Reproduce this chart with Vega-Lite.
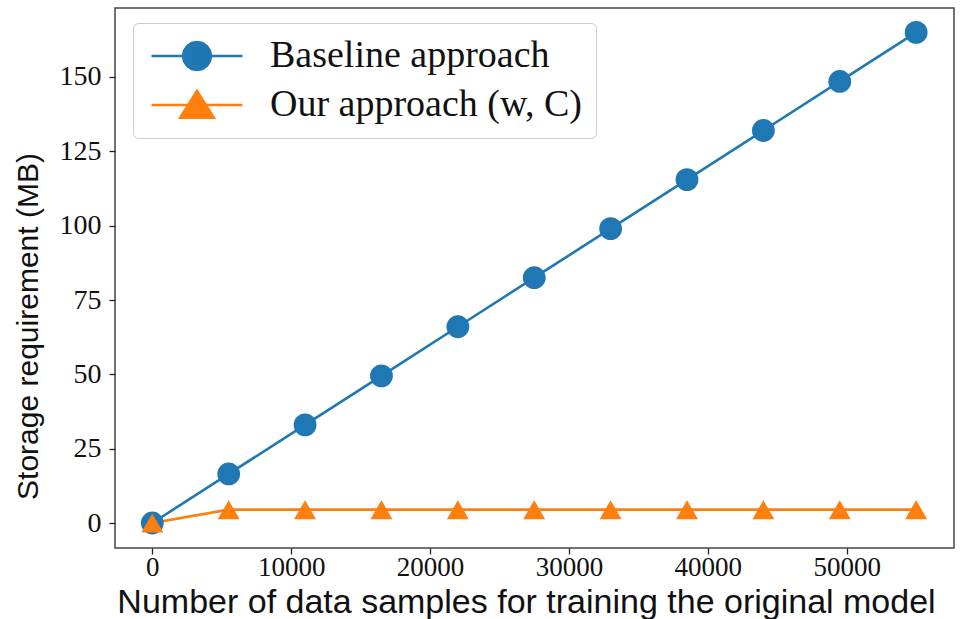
{
  "$schema": "https://vega.github.io/schema/vega-lite/v6.json",
  "width": 839,
  "height": 540,
  "autosize": {"type": "none"},
  "padding": {"left": 115, "top": 8, "right": 13, "bottom": 71},
  "background": "white",
  "config": {
    "view": {"stroke": "#444", "strokeWidth": 1.5},
    "axis": {"grid": false, "domain": false, "tickColor": "#222", "tickSize": 6, "tickWidth": 1.3,
      "labelFont": "Liberation Serif", "labelFontSize": 28, "labelColor": "#111",
      "titleFont": "Liberation Sans", "titleFontWeight": "normal", "titleFontSize": 34, "titleColor": "#111"}
  },
  "data": {"values": [
    {"n": 0, "mb": 0, "s": "Baseline approach"},
    {"n": 5500, "mb": 16.5, "s": "Baseline approach"},
    {"n": 11000, "mb": 33, "s": "Baseline approach"},
    {"n": 16500, "mb": 49.5, "s": "Baseline approach"},
    {"n": 22000, "mb": 66, "s": "Baseline approach"},
    {"n": 27500, "mb": 82.5, "s": "Baseline approach"},
    {"n": 33000, "mb": 99, "s": "Baseline approach"},
    {"n": 38500, "mb": 115.5, "s": "Baseline approach"},
    {"n": 44000, "mb": 132, "s": "Baseline approach"},
    {"n": 49500, "mb": 148.5, "s": "Baseline approach"},
    {"n": 55000, "mb": 165, "s": "Baseline approach"},
    {"n": 0, "mb": 0, "s": "Our approach (w, C)"},
    {"n": 5500, "mb": 4.5, "s": "Our approach (w, C)"},
    {"n": 11000, "mb": 4.5, "s": "Our approach (w, C)"},
    {"n": 16500, "mb": 4.5, "s": "Our approach (w, C)"},
    {"n": 22000, "mb": 4.5, "s": "Our approach (w, C)"},
    {"n": 27500, "mb": 4.5, "s": "Our approach (w, C)"},
    {"n": 33000, "mb": 4.5, "s": "Our approach (w, C)"},
    {"n": 38500, "mb": 4.5, "s": "Our approach (w, C)"},
    {"n": 44000, "mb": 4.5, "s": "Our approach (w, C)"},
    {"n": 49500, "mb": 4.5, "s": "Our approach (w, C)"},
    {"n": 55000, "mb": 4.5, "s": "Our approach (w, C)"}
  ]},
  "encoding": {
    "x": {"field": "n", "type": "quantitative", "scale": {"domain": [-2686, 57725], "nice": false, "zero": false},
      "axis": {"values": [0, 10000, 20000, 30000, 40000, 50000], "format": "d", "labelPadding": 0, "labelFontSize": 27, "title": "Number of data samples for training the original model", "titleY": 64, "titleBaseline": "alphabetic", "titleX": 411, "titleAnchor": "middle", "titleAlign": "center"}},
    "y": {"field": "mb", "type": "quantitative", "scale": {"domain": [-8.4, 173.2], "nice": false, "zero": false},
      "axis": {"values": [0, 25, 50, 75, 100, 125, 150], "labelPadding": 8, "title": "Storage requirement (MB)", "titleFontSize": 30, "titleAngle": -90, "titleX": -87, "titleY": 318, "titleBaseline": "middle", "titleAlign": "center", "titleAnchor": "middle"}}
  },
  "layer": [
    {"mark": {"type": "line", "strokeWidth": 2.6},
      "encoding": {"color": {"field": "s", "type": "nominal",
        "scale": {"domain": ["Baseline approach", "Our approach (w, C)"], "range": ["#1f77b4", "#ff7f0e"]},
        "legend": {"title": null, "orient": "none", "legendX": 18, "legendY": 15,
          "symbolType": "M-3.25,0L3.25,0M0,-1L0,1",
          "symbolSize": 784, "symbolStrokeWidth": 2.6, "symbolOpacity": 1, "symbolOffset": 31,
          "labelFont": "Liberation Serif", "labelFontSize": 38, "labelColor": "#111", "labelOffset": 54, "labelLimit": 500,
          "padding": 14, "rowPadding": 9, "fillColor": "white", "strokeColor": "#ccc", "cornerRadius": 5,
          "encode": {"symbols": {"update": {
            "shape": {"signal": "datum.value === 'Baseline approach' ? 'M-3.25,0L3.25,0M1,0L0.924,0.383L0.707,0.707L0.383,0.924L0,1L-0.383,0.924L-0.707,0.707L-0.924,0.383L-1,0L-0.924,-0.383L-0.707,-0.707L-0.383,-0.924L0,-1L0.383,-0.924L0.707,-0.707L0.924,-0.383Z' : 'M-3.25,0L3.25,0M0,-1L1.2,0.9L-1.2,0.9Z'"},
            "fill": {"signal": "datum.value === 'Baseline approach' ? '#1f77b4' : '#ff7f0e'"},
            "stroke": {"signal": "datum.value === 'Baseline approach' ? '#1f77b4' : '#ff7f0e'"},
            "strokeWidth": {"value": 2.6},
            "opacity": {"value": 1}}}}}}}},
    {"transform": [{"filter": "datum.s === 'Baseline approach'"}],
      "mark": {"type": "point", "shape": "circle", "filled": true, "opacity": 1, "size": 520, "color": "#1f77b4"}},
    {"transform": [{"filter": "datum.s !== 'Baseline approach'"}],
      "mark": {"type": "point", "shape": "triangle-up", "filled": true, "opacity": 1, "size": 480, "color": "#ff7f0e"}}
  ]
}
